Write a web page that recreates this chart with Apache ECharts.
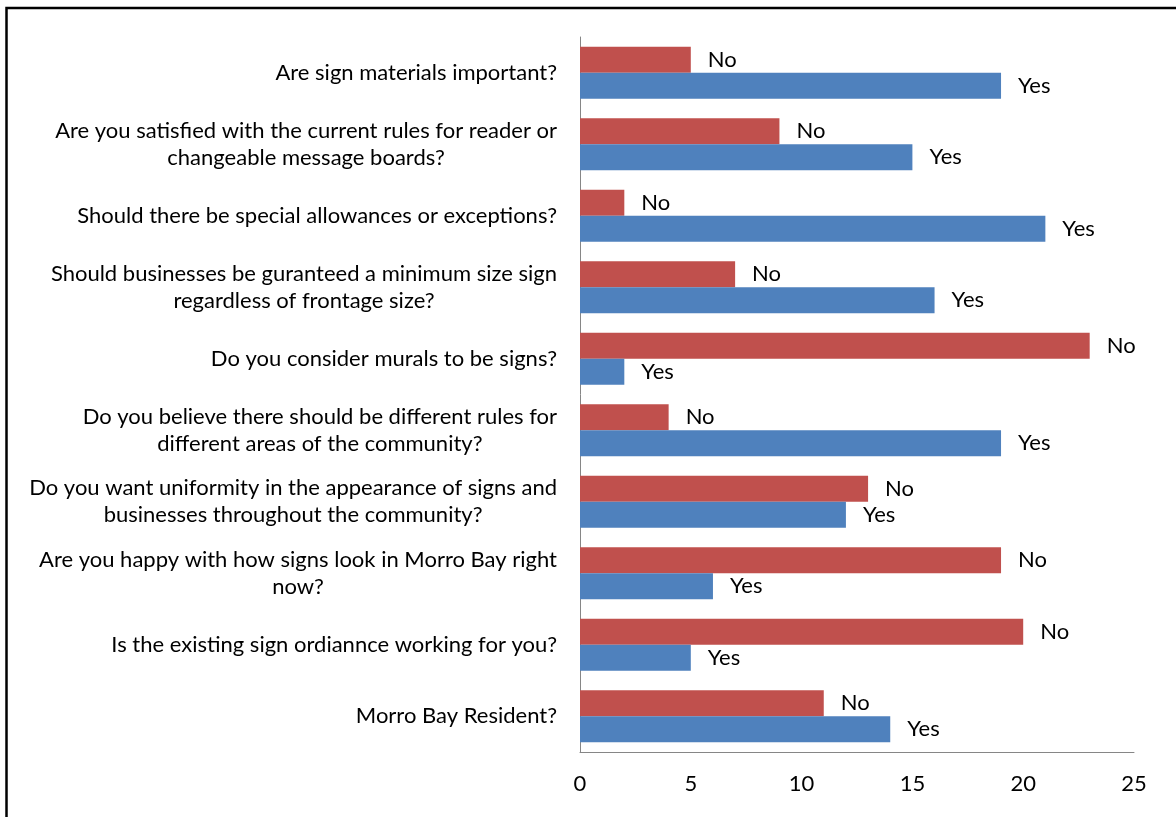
<!DOCTYPE html>
<html>
<head>
<meta charset="utf-8">
<script src="https://cdn.jsdelivr.net/npm/echarts@6/dist/echarts.min.js"></script>
<style>
  html, body { margin: 0; padding: 0; background: #fff; }
  #chart { width: 1176px; height: 817px; }
</style>
</head>
<body>
<div id="chart"></div>
<script>
// Survey questions, listed bottom to top as they appear on the category axis
const questions = [
  'Morro Bay Resident?',
  'Is the existing sign ordiannce working for you?',
  'Are you happy with how signs look in Morro Bay right\nnow?',
  'Do you want uniformity in the appearance of signs and\nbusinesses throughout the community?',
  'Do you believe there should be different rules for\ndifferent areas of the community?',
  'Do you consider murals to be signs?',
  'Should businesses be guranteed a minimum size sign\nregardless of frontage size?',
  'Should there be special allowances or exceptions?',
  'Are you satisfied with the current rules for reader or\nchangeable message boards?',
  'Are sign materials important?'
];
const yesCounts = [14, 5, 6, 12, 19, 2, 16, 21, 15, 19];
const noCounts  = [11, 20, 19, 13, 4, 23, 7, 2, 9, 5];
const xTicks = { min: 0, max: 25, interval: 5 };

const FONT = 'Lato, "Open Sans", sans-serif';

const chart = echarts.init(document.getElementById('chart'), null, { renderer: 'canvas' });

const seriesLabel = {
  show: true,
  position: 'right',
  distance: 17,
  formatter: '{a}',
  color: '#000',
  fontFamily: FONT,
  fontSize: 22
};

chart.setOption({
  animation: false,
  backgroundColor: '#fff',
  grid: { left: 580, right: 42, top: 37, bottom: 65, containLabel: false },
  xAxis: {
    type: 'value',
    min: xTicks.min,
    max: xTicks.max,
    interval: xTicks.interval,
    axisLine: { show: true, lineStyle: { color: '#868686', width: 1 } },
    axisTick: { show: false },
    splitLine: { show: false },
    axisLabel: { color: '#000', fontFamily: FONT, fontSize: 22, margin: 21 }
  },
  yAxis: {
    type: 'category',
    data: questions,
    axisLine: { show: true, lineStyle: { color: '#868686', width: 1 } },
    axisTick: { show: false },
    axisLabel: {
      color: '#000',
      margin: 23,
      align: 'right',
      lineHeight: 27,
      formatter: function (v) {
        return v.split('\n').map(function (s) { return '{c|' + s + '}'; }).join('\n');
      },
      rich: {
        c: { align: 'center', fontFamily: FONT, fontSize: 22, lineHeight: 27, color: '#000' }
      }
    }
  },
  // "No" listed first so it sits above "Yes" within each question
  series: [
    {
      name: 'No',
      type: 'bar',
      data: noCounts,
      itemStyle: { color: '#C0504D' },
      barGap: '0%',
      barCategoryGap: '27%',
      label: seriesLabel
    },
    {
      name: 'Yes',
      type: 'bar',
      data: yesCounts,
      itemStyle: { color: '#4F81BD' },
      barGap: '0%',
      barCategoryGap: '27%',
      label: seriesLabel
    }
  ],
  graphic: [
    {
      type: 'rect',
      shape: { x: 6.5, y: 8, width: 1300, height: 1000 },
      style: { fill: 'none', stroke: '#000', lineWidth: 2.5 },
      silent: true
    }
  ]
});
</script>
</body>
</html>
